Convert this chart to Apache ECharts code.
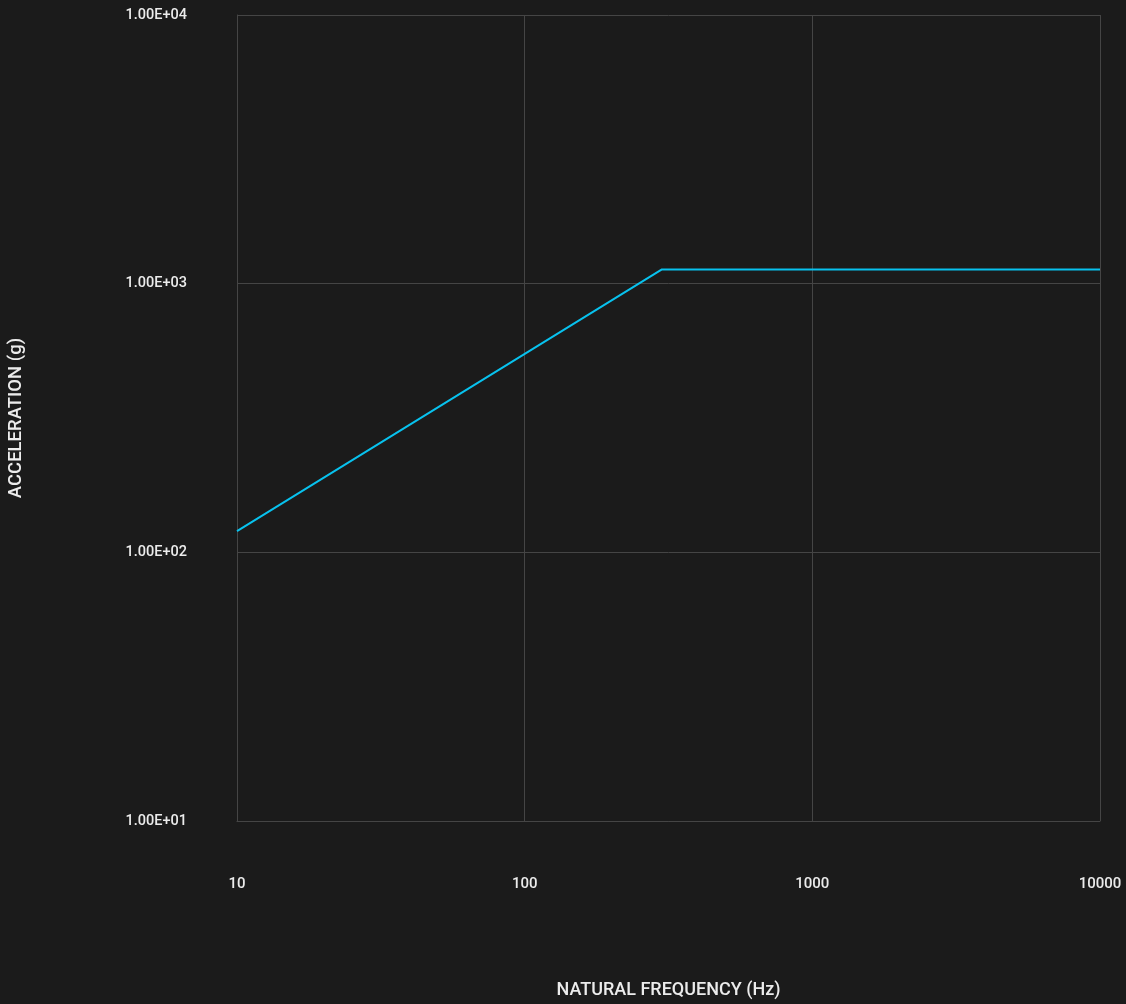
<!DOCTYPE html>
<html>
<head>
<meta charset="utf-8">
<script src="https://cdn.jsdelivr.net/npm/echarts@6/dist/echarts.min.js"></script>
<style>
html,body{margin:0;padding:0;background:#1b1b1b;}
#chart{width:1126px;height:1004px;}
</style>
</head>
<body>
<div id="chart"></div>
<script>
const frequencies = [10, 300, 10000];
const accelerations = [120, 1130, 1130];
const xTicks = [10, 100, 1000, 10000];
const yTicks = [10, 100, 1000, 10000];

const FONT = 'Roboto, "Noto Sans", sans-serif';

function sci(v) {
  const e = Math.floor(Math.log10(v) + 1e-9);
  const m = v / Math.pow(10, e);
  const es = (e < 0 ? '-' : '+') + String(Math.abs(e)).padStart(2, '0');
  return m.toFixed(2) + 'E' + es;
}

const chart = echarts.init(document.getElementById('chart'));
chart.setOption({
  backgroundColor: '#1b1b1b',
  animation: false,
  grid: { left: 237, right: 26, top: 15, bottom: 183, outerBoundsMode: 'none', containLabel: false },
  xAxis: {
    type: 'log',
    logBase: 10,
    min: xTicks[0],
    max: xTicks[xTicks.length - 1],
    name: 'NATURAL FREQUENCY (Hz)',
    nameLocation: 'middle',
    nameGap: 160,
    nameTextStyle: { color: '#ececec', fontSize: 18, fontWeight: 500, fontFamily: FONT },
    axisLine: { show: true, lineStyle: { color: '#454545', width: 1 } },
    axisTick: { show: false },
    axisLabel: { color: '#ececec', fontSize: 15, fontWeight: 500, fontFamily: FONT, margin: 56,
      formatter: v => String(Math.round(v)) },
    splitLine: { show: true, lineStyle: { color: '#454545', width: 1 } }
  },
  yAxis: {
    type: 'log',
    logBase: 10,
    min: yTicks[0],
    max: yTicks[yTicks.length - 1],
    name: 'ACCELERATION (g)',
    nameLocation: 'middle',
    nameGap: 211,
    nameRotate: 90,
    nameTextStyle: { color: '#ececec', fontSize: 18.5, fontWeight: 500, fontFamily: FONT },
    axisLine: { show: true, lineStyle: { color: '#454545', width: 1 } },
    axisTick: { show: false },
    axisLabel: { color: '#ececec', fontSize: 14.5, fontWeight: 500, fontFamily: FONT, margin: 50,
      formatter: v => sci(v) },
    splitLine: { show: true, lineStyle: { color: '#454545', width: 1 } }
  },
  series: [{
    type: 'line',
    data: frequencies.map((f, i) => [f, accelerations[i]]),
    showSymbol: false,
    lineStyle: { color: '#08c2ee', width: 2 },
    itemStyle: { color: '#08c2ee' }
  }]
});
</script>
</body>
</html>
